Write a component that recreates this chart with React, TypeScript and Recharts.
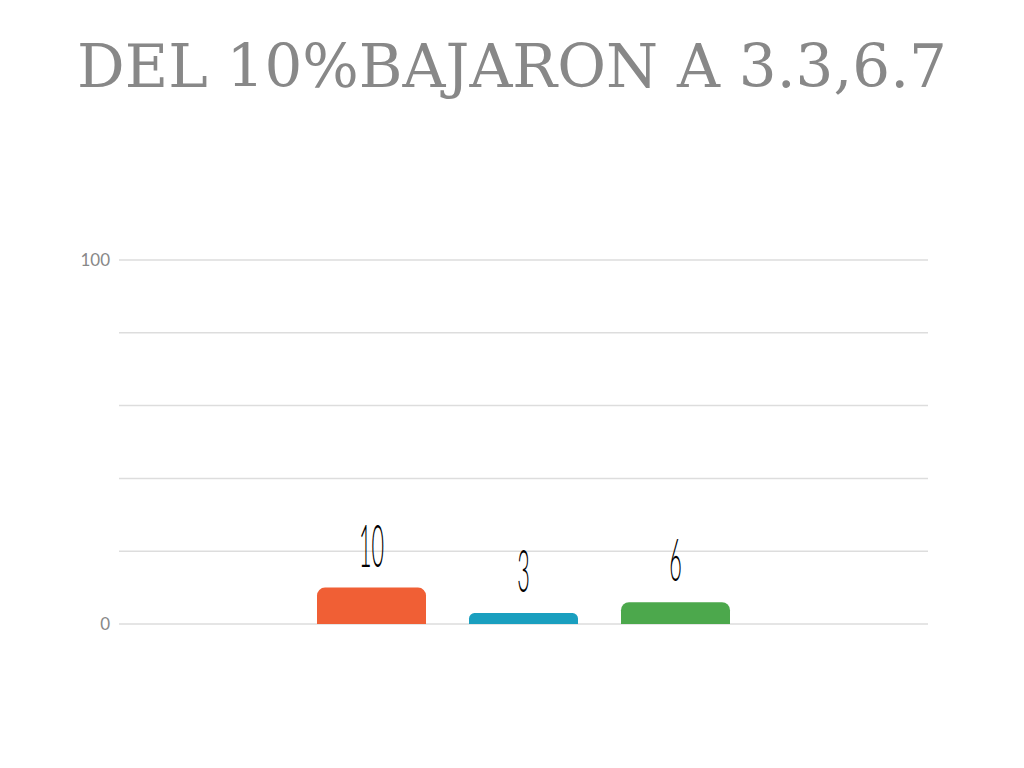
import React from "react";
import { BarChart, Bar, XAxis, YAxis, CartesianGrid, LabelList } from "recharts";

const title = "DEL 10%BAJARON A 3.3,6.7";
const seriesKeys = ["a", "b", "c"];
const seriesValues = [10, 3, 6];
const seriesColors = ["#F05F35", "#1A9FBF", "#4CA84C"];
const yTicks = [0, 20, 40, 60, 80, 100];

const row: Record<string, number | string> = { name: "" };
seriesKeys.forEach((k, i) => {
  row[k] = seriesValues[i];
});
const data = [row];

const ValueLabel = (props: any) => {
  const { x, y, width, value } = props;
  const cx = x + width / 2;
  return (
    <text
      transform={`translate(${cx},${y - 21}) scale(0.36,1)`}
      textAnchor="middle"
      fontSize={60}
      fontFamily="Lato"
      fontWeight={300}
      fill="#000"
    >
      {value}
    </text>
  );
};

const App: React.FC = () => {
  return (
    <div style={{ position: "absolute", left: 0, top: 0, width: 1024, height: 768, background: "#fff" }}>
      <div
        style={{
          position: "absolute",
          top: 37,
          left: 0,
          width: 1024,
          textAlign: "center",
          fontFamily: "DejaVu Serif",
          fontSize: 59.5,
          lineHeight: "60px",
          color: "#888",
          whiteSpace: "nowrap",
        }}
      >
        {title}
      </div>
      <BarChart
        width={1024}
        height={768}
        data={data}
        margin={{ top: 260, right: 96, bottom: 144, left: 60 }}
        barCategoryGap={198}
        barGap={43}
      >
        <CartesianGrid vertical={false} stroke="#ddd" strokeWidth={1.5} />
        <XAxis dataKey="name" hide />
        <YAxis
          width={59}
          domain={[0, 100]}
          ticks={yTicks}
          interval={0}
          axisLine={false}
          tickLine={false}
          tickMargin={3}
          tickFormatter={(v: number) => (v === 0 || v === 100 ? String(v) : "")}
          tick={{ fill: "#888", fontSize: 17, fontFamily: "Lato" }}
        />
        {seriesKeys.map((k, i) => (
          <Bar key={k} dataKey={k} fill={seriesColors[i]} radius={[8, 8, 0, 0]} isAnimationActive={false}>
            <LabelList dataKey={k} content={ValueLabel} />
          </Bar>
        ))}
      </BarChart>
    </div>
  );
};

export default App;
